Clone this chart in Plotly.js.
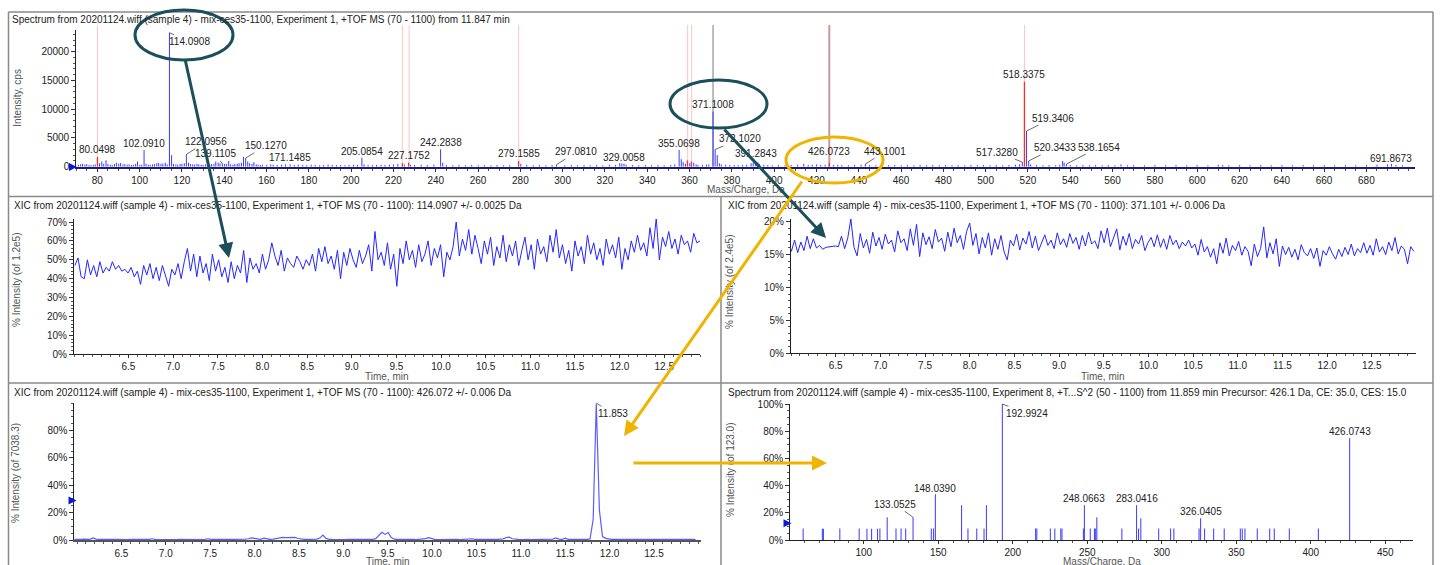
<!DOCTYPE html>
<html><head><meta charset="utf-8">
<script src="https://cdn.plot.ly/plotly-3.0.1.min.js"></script>
<style>html,body{margin:0;padding:0;background:#fff;}#chart{width:1440px;height:565px;}</style>
</head><body><div id="chart"></div>
<script>
// ---------------- DATA ----------------
const TITLE_MS1 = "Spectrum from 20201124.wiff (sample 4) - mix-ces35-1100, Experiment 1, +TOF MS (70 - 1100) from 11.847 min";
const TITLE_XIC1 = "XIC from 20201124.wiff (sample 4) - mix-ces35-1100, Experiment 1, +TOF MS (70 - 1100): 114.0907 +/- 0.0025 Da";
const TITLE_XIC2 = "XIC from 20201124.wiff (sample 4) - mix-ces35-1100, Experiment 1, +TOF MS (70 - 1100): 371.101 +/- 0.006 Da";
const TITLE_XIC3 = "XIC from 20201124.wiff (sample 4) - mix-ces35-1100, Experiment 1, +TOF MS (70 - 1100): 426.072 +/- 0.006 Da";
const TITLE_MS2 = "Spectrum from 20201124.wiff (sample 4) - mix-ces35-1100, Experiment 8, +T...S^2 (50 - 1100) from 11.859 min Precursor: 426.1 Da, CE: 35.0, CES: 15.0";

// MS1 spectrum: [m/z, intensity cps]
const MS1_BLUE = [
 [71.0,350],[72.1,420],[73.0,500],[74.1,380],[75.0,450],[76.1,300],[77.0,250],[78.1,320],[79.0,400],
 [81.0,600],[82.1,900],[83.0,500],[84.1,1100],[85.0,450],[86.1,350],[87.0,300],[88.1,450],[89.0,700],
 [90.1,500],[91.0,650],[92.1,400],[93.0,450],[94.1,350],[95.0,400],[96.1,300],[97.0,350],[98.1,500],
 [99.0,900],[100.1,300],[101.0,350],[102.0910,2900],[103.0,500],[104.1,350],[105.0,300],[106.1,400],
 [107.0,450],[108.1,600],[109.0,650],[110.1,500],[111.0,550],[112.1,700],[113.0,400],[114.0908,23300],
 [115.1,2000],[116.0,500],[117.1,400],[118.0,350],[119.1,450],[120.0,500],[121.1,600],[122.0956,2150],
 [123.1,700],[124.0,450],[125.1,400],[126.0,350],[127.1,500],[128.0,400],[129.1,350],[130.0,300],
 [131.1,400],[132.0,350],[133.1,300],[134.0,450],[135.1,500],[136.0,900],[137.1,700],[138.0,600],
 [139.1105,500],[140.1,450],[141.0,500],[142.1,1000],[143.0,400],[144.1,350],[145.0,450],[146.1,500],
 [147.0,600],[148.1,700],[149.1,1700],[150.1270,1500],[151.1,900],[152.0,600],[153.1,500],[154.0,800],
 [155.1,400],[156.0,350],[157.1,300],[158.0,350],[160.1,300],[162.0,400],[163.1,350],[165.0,300],
 [167.1,350],[169.0,400],[171.1485,400],[173.1,300],[175.0,350],[177.1,300],[179.0,250],[181.1,350],
 [183.0,300],[185.1,250],[187.0,300],[189.1,350],[191.0,300],[193.1,250],[195.0,300],[197.1,250],
 [199.0,300],[201.1,350],[203.0,300],[205.0854,1570],[206.1,400],[208.0,300],[210.1,250],[212.0,300],
 [214.1,350],[216.0,300],[218.1,350],[220.0,400],[222.1,500],[225.1,400],[228.1,350],[230.0,300],
 [233.1,350],[236.0,300],[239.1,350],[242.2838,3030],[243.3,700],[245.0,300],[248.1,250],[251.0,300],
 [254.1,250],[257.0,300],[260.1,250],[263.0,300],[266.1,250],[269.0,300],[272.1,250],[275.0,300],
 [280.2,500],[283.0,300],[286.1,250],[289.0,300],[292.1,250],[295.0,300],[297.0810,350],[301.0,250],
 [304.1,300],[307.0,250],[310.1,300],[313.0,250],[316.1,300],[319.0,250],[322.1,350],[325.0,300],
 [327.0,600],[328.0,550],[329.0058,500],[330.0,350],[333.1,300],[336.0,250],[339.1,300],[342.0,250],
 [345.1,300],[348.0,250],[351.1,300],[353.0,400],[355.0698,2900],[356.1,1300],[357.0,800],[358.1,500],
 [360.1,600],[362.0,700],[363.1,400],[364.0,300],[366.1,300],[368.0,350],[369.1,400],[371.1008,9570],
 [372.1020,3000],[373.1,2000],[374.1,600],[375.0,400],[377.1,350],[379.0,300],[381.1,300],[383.0,250],
 [385.1,300],[387.0,350],[389.1,600],[390.1,700],[391.2843,650],[392.3,750],[393.0,500],[395.1,350],
 [397.0,300],[399.1,250],[402.0,300],[405.1,250],[408.0,300],[411.1,350],[414.0,500],[416.1,300],
 [418.0,350],[420.1,400],[422.0,300],[424.1,350],[428.0,300],[430.1,350],[432.0,300],[435.1,250],
 [438.0,300],[441.1,350],[443.1001,450],[445.0,300],[448.1,250],[451.0,300],[454.1,250],[457.0,300],
 [460.1,250],[463.0,300],[466.1,250],[469.0,300],[472.1,250],[475.0,300],[478.1,250],[481.0,300],
 [484.1,250],[487.0,300],[490.1,250],[493.0,300],[496.1,250],[499.0,300],[502.1,250],[505.0,300],
 [508.1,250],[511.0,300],[514.1,350],[516.0,400],[517.3280,800],[519.3406,6200],[520.3433,1000],
 [521.3,400],[524.0,300],[527.1,250],[530.0,300],[533.1,250],[535.0,350],[536.4,1000],[537.1,700],
 [538.1654,450],[540.0,300],[543.1,250],[546.0,300],[549.1,250],[552.0,300],[555.1,250],[558.0,300],
 [561.1,250],[564.0,400],[567.1,250],[570.0,300],[575.1,250],[580.0,300],[585.1,250],[590.0,300],
 [595.1,250],[600.0,300],[605.1,250],[610.0,350],[612.1,300],[615.0,250],[620.1,300],[625.0,250],
 [630.1,300],[635.0,250],[640.1,300],[645.0,250],[650.1,300],[655.0,250],[660.1,300],[665.0,250],
 [670.1,300],[675.0,250],[680.1,300],[685.0,350],[690.0,400],[691.8673,500],[694.0,300],[697.1,250]
];
const MS1_RED = [[80.0498,1700],[224.2,600],[227.1752,700],[279.1585,1000],[359.0,1100],[360.9,900],[426.0723,600],[518.3375,14780]];
const MS1_MARK_MZ = [80.05,224.2,227.4,279.2,359.1,361.0,518.34];
const MS1_MARK_DARK_MZ = [426.07];
const MS1_SELECT_MZ = [371.10];
const MS1_LABELS = ['80.0498','102.0910','114.0908','122.0956','139.1105','150.1270','171.1485','205.0854','227.1752','242.2838','279.1585','297.0810','329.0058','355.0698','371.1008','372.1020','391.2843','426.0723','443.1001','517.3280','518.3375','519.3406','520.3433','538.1654','691.8673'];
const MS1_XTICKS = [80,100,120,140,160,180,200,220,240,260,280,300,320,340,360,380,400,420,440,460,480,500,520,540,560,580,600,620,640,660,680];
const MS1_YTICKS = [0,5000,10000,15000,20000];

// XIC time axis (min)
const TIME = [
 5.900,5.935,5.970,6.005,6.040,6.075,6.110,6.145,6.180,6.215,
 6.250,6.285,6.320,6.355,6.390,6.425,6.460,6.495,6.530,6.565,
 6.600,6.635,6.670,6.705,6.740,6.775,6.810,6.845,6.880,6.915,
 6.950,6.985,7.020,7.055,7.090,7.125,7.160,7.195,7.230,7.265,
 7.300,7.335,7.370,7.405,7.440,7.475,7.510,7.545,7.580,7.615,
 7.650,7.685,7.720,7.755,7.790,7.825,7.860,7.895,7.930,7.965,
 8.000,8.035,8.070,8.105,8.140,8.175,8.210,8.245,8.280,8.315,
 8.350,8.385,8.420,8.455,8.490,8.525,8.560,8.595,8.630,8.665,
 8.700,8.735,8.770,8.805,8.840,8.875,8.910,8.945,8.980,9.015,
 9.050,9.085,9.120,9.155,9.190,9.225,9.260,9.295,9.330,9.365,
 9.400,9.435,9.470,9.505,9.540,9.575,9.610,9.645,9.680,9.715,
 9.750,9.785,9.820,9.855,9.890,9.925,9.960,9.995,10.030,10.065,
 10.100,10.135,10.170,10.205,10.240,10.275,10.310,10.345,10.380,10.415,
 10.450,10.485,10.520,10.555,10.590,10.625,10.660,10.695,10.730,10.765,
 10.800,10.835,10.870,10.905,10.940,10.975,11.010,11.045,11.080,11.115,
 11.150,11.185,11.220,11.255,11.290,11.325,11.360,11.395,11.430,11.465,
 11.500,11.535,11.570,11.605,11.640,11.675,11.710,11.745,11.780,11.815,
 11.850,11.885,11.920,11.955,11.990,12.025,12.060,12.095,12.130,12.165,
 12.200,12.235,12.270,12.305,12.340,12.375,12.410,12.445,12.480,12.515,
 12.550,12.585,12.620,12.655,12.690,12.725,12.760,12.795,12.830,12.865,
 12.900,12.935,12.970
];
// XIC 114.0907 (% of 1.2e5)
const XIC_114 = [
 47,51,41,40,50,42,47,41,49,43,
 46,44,49,45,47,44,45,43,46,41,
 44,37,47,42,48,40,46,39,47,41,
 36,45,42,48,40,49,56,44,53,41,
 52,43,48,39,53,44,50,41,46,38,
 49,40,47,43,55,38,51,45,48,43,
 53,45,50,59,52,47,55,44,51,48,
 46,52,49,45,50,47,53,44,56,49,
 57,48,52,45,55,40,54,47,56,50,
 46,55,48,52,58,44,65,50,54,47,
 59,45,53,36,56,48,60,50,55,46,
 58,49,53,60,47,56,51,58,41,54,
 50,57,70,52,61,55,66,53,63,56,
 48,60,53,62,47,57,51,63,49,58,
 52,60,47,55,62,50,58,45,61,53,
 57,49,63,54,66,51,58,48,55,44,
 60,52,57,48,63,53,59,50,56,47,
 61,53,58,51,62,45,56,50,60,54,
 63,55,59,52,67,56,72,50,62,57,
 65,56,61,53,63,58,60,54,64,59,
 60,61,59
];
// XIC 371.101 (% of 2.4e5)
const XIC_371 = [
 16.8,16.2,17.0,15.5,17.2,15.3,16.9,15.6,17.8,15.9,
 17.4,16.0,16.4,15.8,16.1,16.2,16.3,16.3,16.2,17.8,
 15.9,17.5,20.4,16.1,14.8,18.2,16.0,17.3,15.2,18.4,
 16.3,17.6,15.8,18.1,16.6,17.2,15.4,18.6,16.8,17.4,
 15.6,18.9,16.4,19.6,14.7,18.3,16.5,17.7,15.9,18.8,
 16.9,17.5,15.5,18.4,16.2,19.0,16.8,17.9,15.8,18.5,
 19.8,16.4,18.2,15.1,17.6,16.0,18.3,14.9,17.4,15.8,
 17.9,15.4,14.2,17.2,16.3,18.1,15.7,17.5,16.6,18.5,
 16.0,17.8,15.6,16.9,18.0,16.4,17.2,15.9,18.3,16.5,
 17.4,16.1,18.2,16.7,17.6,15.8,17.9,16.3,18.4,16.6,
 17.1,15.9,18.6,16.8,19.0,16.2,17.5,18.9,15.7,17.8,
 16.4,18.2,15.9,17.3,16.6,17.9,15.6,16.8,17.6,16.2,
 18.0,16.1,17.4,15.8,17.9,16.5,17.2,15.9,16.9,16.3,
 17.2,16.0,16.6,14.9,17.3,15.4,16.2,14.6,15.9,13.6,
 16.8,15.2,17.5,14.8,16.4,15.6,17.0,14.9,16.2,15.5,
 13.3,16.6,14.7,15.9,19.2,14.5,16.8,15.1,17.4,13.2,
 16.3,15.0,16.1,14.6,15.8,14.2,16.5,15.3,14.8,15.9,
 14.4,16.0,13.2,15.6,14.9,16.2,15.1,14.3,15.8,14.7,
 16.1,15.0,16.6,14.8,15.9,15.3,16.8,15.2,16.4,14.9,
 17.4,15.4,16.2,15.0,16.9,15.6,17.6,15.1,16.3,15.8,
 13.6,16.2,15.5
];
// XIC 426.072 (% of 7038.3)
const XIC_426 = [
 0.4,0.3,0.5,0.3,0.4,0.6,0.4,0.5,1.5,0.6,
 0.4,0.3,0.5,0.4,0.3,0.4,0.5,0.3,0.4,0.3,
 0.4,0.5,0.3,0.4,0.3,0.5,0.4,0.9,0.5,0.4,
 0.3,0.4,0.5,0.3,0.4,0.3,0.5,0.4,0.6,0.4,
 0.3,0.5,0.4,0.3,0.5,0.9,0.5,0.4,0.3,0.4,
 0.5,0.3,0.4,0.5,0.4,0.3,0.5,0.6,0.9,1.6,
 1.2,0.6,0.5,1.3,0.6,0.4,0.7,1.2,1.8,1.9,
 1.7,1.8,1.6,1.9,1.1,0.6,0.5,0.4,0.5,0.4,
 0.6,1.4,3.6,1.2,0.5,0.4,0.3,0.5,0.4,0.3,
 0.5,0.4,0.3,0.4,0.5,0.3,0.4,0.5,0.4,1.0,
 3.2,5.6,4.1,5.5,1.8,0.6,0.4,0.5,0.3,0.4,
 0.5,0.4,0.3,0.4,0.5,1.0,1.7,0.8,0.4,0.3,
 0.4,0.5,0.3,0.4,0.5,0.4,0.3,0.5,0.4,0.6,
 0.9,0.5,0.4,0.3,0.5,0.4,0.3,0.4,0.5,0.4,
 0.8,1.8,2.1,0.9,0.5,0.4,0.3,0.5,0.4,0.3,
 0.4,0.5,0.3,0.4,0.5,0.4,0.6,1.5,0.6,0.4,
 1.3,0.5,0.4,0.3,0.4,0.5,0.4,0.5,0.8,15,
 100,22,2.5,1.2,0.6,0.4,0.5,0.3,0.4,0.5,
 0.3,0.4,0.5,0.3,0.4,0.5,0.3,0.4,0.5,0.3,
 0.4,0.5,0.3,0.4,0.5,0.4,0.3,0.5,0.4,0.3,
 0.4,0.5,0.3
];
const XIC_APEX_LABEL = '11.853';
const XIC_TICKS = [6.5,7.0,7.5,8.0,8.5,9.0,9.5,10.0,10.5,11.0,11.5,12.0,12.5];
const XIC114_YTICKS = [0,10,20,30,40,50,60,70];
const XIC371_YTICKS = [0,5,10,15,20];
const XIC426_YTICKS = [0,20,40,60,80];

// MS/MS spectrum of 426.1: [m/z, % of 123.0]
const MS2 = [
 [59.3,8.5],[72.2,8.2],[72.9,8.2],[83.9,8.5],[96.9,8.5],[102.1,8.2],[105.2,8.2],[109.2,8.2],[110.8,8.5],
 [115.7,16.7],[121.6,8.5],[125.0,8.5],[128.1,8.5],[133.0525,16.7],[145.3,8.5],[146.8,8.5],[148.0390,33.6],
 [165.6,25.5],[169.9,8.5],[175.8,8.5],[180.7,8.5],[182.3,25.5],[192.9924,100],[215.3,8.5],[216.1,8.5],
 [225.2,8.5],[228.2,8.5],[232.2,8.5],[233.0,8.5],[247.4,8.5],[248.0663,25.5],[252.0,8.5],[254.8,8.5],
 [255.6,8.5],[256.4,16.7],[273.2,8.5],[283.0416,25.5],[284.4,8.5],[285.9,16.0],[297.9,8.5],[305.9,8.5],
 [308.1,8.5],[325.0,8.5],[326.0405,16.0],[328.7,8.5],[334.8,8.5],[341.9,8.5],[352.7,8.5],[354.0,8.5],
 [355.8,8.5],[364.1,8.5],[372.4,8.5],[375.5,8.5],[385.6,8.5],[405.1,8.5],[426.0743,75]
];
const MS2_LABELS = ['133.0525','148.0390','192.9924','248.0663','283.0416','326.0405','426.0743'];
const MS2_XTICKS = [100,150,200,250,300,350,400,450];
const MS2_YTICKS = [0,20,40,60,80,100];

// ---------------- STYLE / LAYOUT ----------------
const W = 1440, H = 565;
const PX = x => x / W, PY = y => 1 - y / H;
const FONT = 'Liberation Sans, Arial, sans-serif';
const TXT = '#222';
const pct = a => a.map(v => v + '%');

// label offsets in pixels from the peak top: [dx, dy, leader]
const MS1_LABEL_POS = {
 '80.0498':[0,-7,0],'102.0910':[0,-7,0],'114.0908':[20,9,1],'122.0956':[20,-12.6,1],'139.1105':[-7,-10,1],
 '150.1270':[20,-12.3,1],'171.1485':[0,-6.5,0],'205.0854':[0,-6,0],'227.1752':[0,-7,0],'242.2838':[0,-6.5,0],
 '279.1585':[0,-7,0],'297.0810':[20,-12.7,1],'329.0058':[0,-6,0],'355.0698':[0,-6.5,0],'371.1008':[0,-7,0],
 '372.1020':[25,-10.5,1],'391.2843':[0,-9,0],'426.0723':[0,-12,0],'443.1001':[20,-13,1],'517.3280':[-25,-10,1],
 '518.3375':[0,-7,0],'519.3406':[26,-13,1],'520.3433':[26,-13,1],'538.1654':[33,-17,1],'691.8673':[0,-5.5,0]
};
const MS2_LABEL_POS = {
 '133.0525':[-18,-13,1],'148.0390':[0,-6,0],'192.9924':[24.5,9.3,1],'248.0663':[0,-7,0],
 '283.0416':[0,-7,0],'326.0405':[0,-7,0],'426.0743':[0,-6.5,0]
};

function sticks(peaks){ const x=[],y=[]; peaks.forEach(p=>{x.push(p[0],p[0],null);y.push(0,p[1],null);}); return {x,y}; }
function lookup(peaks, mz){ let v=null; peaks.forEach(p=>{ if(Math.abs(p[0]-mz)<0.001) v=p[1]; }); return v; }

function peakLabel(xa, ya, x, y, text, pos){
  const f = {family:FONT,size:10,color:TXT};
  if (pos[2]) return {xref:xa,yref:ya,x:x,y:y,text:text,showarrow:true,arrowhead:0,arrowwidth:0.8,arrowcolor:'#444',
     ax:pos[0],ay:pos[1],xanchor:'center',yanchor:'middle',standoff:0,font:f};
  return {xref:xa,yref:ya,x:x,y:y,text:text,showarrow:false,xshift:pos[0],yshift:-pos[1],xanchor:'center',yanchor:'middle',font:f};
}

const s1b = sticks(MS1_BLUE), s1r = sticks(MS1_RED), s2 = sticks(MS2);
const traces = [
  {x:s1b.x,y:s1b.y,xaxis:'x',yaxis:'y',mode:'lines',line:{color:'#3a3aff',width:1},hoverinfo:'skip'},
  {x:s1r.x,y:s1r.y,xaxis:'x',yaxis:'y',mode:'lines',line:{color:'#ff2a2a',width:1.3},hoverinfo:'skip'},
  {x:TIME,y:XIC_114,xaxis:'x2',yaxis:'y2',mode:'lines',line:{color:'#2626ff',width:1},hoverinfo:'skip'},
  {x:TIME,y:XIC_371,xaxis:'x3',yaxis:'y3',mode:'lines',line:{color:'#2626ff',width:1},hoverinfo:'skip'},
  {x:TIME,y:XIC_426,xaxis:'x4',yaxis:'y4',mode:'lines',line:{color:'#5c5cff',width:1.2},hoverinfo:'skip'},
  {x:s2.x,y:s2.y,xaxis:'x5',yaxis:'y5',mode:'lines',line:{color:'#4a4aff',width:1.1},hoverinfo:'skip'}
];

function ax(o){
  return Object.assign({showgrid:false,zeroline:false,showline:true,linecolor:'#222',linewidth:1,ticks:'outside',
    ticklen:3,tickcolor:'#333',tickfont:{family:FONT,size:10,color:TXT},fixedrange:true,tickmode:'array'},o);
}
const minorX = d => ({ticks:'outside',ticklen:2,dtick:d,tickcolor:'#555',tickmode:'linear'});
const minorY = d => ({ticks:'outside',ticklen:2,dtick:d,tickcolor:'#555',tickmode:'linear'});

const layout = {
  width:W,height:H,margin:{l:0,r:0,t:0,b:0},paper_bgcolor:'#fff',plot_bgcolor:'#fff',showlegend:false,
  font:{family:FONT,size:10,color:TXT},
  title:{text:TITLE_MS1,x:PX(12),xanchor:'left',y:PY(19),yanchor:'middle',font:{family:FONT,size:10,color:TXT}},
  xaxis: ax({domain:[PX(76.2),PX(1415)],range:[70,703],anchor:'y',tickvals:MS1_XTICKS,linecolor:'#1c1c80',linewidth:2,minor:minorX(5)}),
  yaxis: ax({domain:[PY(166.7),PY(30)],range:[0,23774],anchor:'x',tickvals:MS1_YTICKS,ticktext:MS1_YTICKS.map(String),ticklen:4,minor:minorY(1000)}),
  xaxis2: ax({domain:[PX(74),PX(700)],range:[5.89,12.9],anchor:'y2',tickvals:XIC_TICKS,ticktext:XIC_TICKS.map(v=>v.toFixed(1)),minor:minorX(0.1)}),
  yaxis2: ax({domain:[PY(354.3),PY(219)],range:[0,71.6],anchor:'x2',tickvals:XIC114_YTICKS,ticktext:pct(XIC114_YTICKS),ticklen:4,minor:minorY(2)}),
  xaxis3: ax({domain:[PX(791),PX(1415.6)],range:[6.0,12.99],anchor:'y3',tickvals:XIC_TICKS,ticktext:XIC_TICKS.map(v=>v.toFixed(1)),minor:minorX(0.1)}),
  yaxis3: ax({domain:[PY(353.3),PY(218.7)],range:[0,20.45],anchor:'x3',tickvals:XIC371_YTICKS,ticktext:pct(XIC371_YTICKS),ticklen:4,minor:minorY(1)}),
  xaxis4: ax({domain:[PX(74.4),PX(701)],range:[5.97,13.03],anchor:'y4',tickvals:XIC_TICKS,ticktext:XIC_TICKS.map(v=>v.toFixed(1)),linecolor:'#555',linewidth:2,minor:minorX(0.1)}),
  yaxis4: ax({domain:[PY(540),PY(403.3)],range:[0,100],anchor:'x4',tickvals:XIC426_YTICKS,ticktext:pct(XIC426_YTICKS),ticklen:4,minor:minorY(5)}),
  xaxis5: ax({domain:[PX(790.2),PX(1413.3)],range:[50.6,468.8],anchor:'y5',tickvals:MS2_XTICKS,ticktext:MS2_XTICKS.map(String),minor:minorX(10)}),
  yaxis5: ax({domain:[PY(540),PY(404)],range:[0,100],anchor:'x5',tickvals:MS2_YTICKS,ticktext:pct(MS2_YTICKS),ticklen:4,minor:minorY(5)}),
  shapes:[], annotations:[]
};

// marker lines in MS1
MS1_MARK_MZ.forEach(m=>layout.shapes.push({type:'line',xref:'x',yref:'y domain',x0:m,x1:m,y0:0,y1:1.036,layer:'below',line:{color:'#ffc4c4',width:1}}));
MS1_MARK_DARK_MZ.forEach(m=>layout.shapes.push({type:'line',xref:'x',yref:'y domain',x0:m,x1:m,y0:0,y1:1.036,layer:'below',line:{color:'#c49a9a',width:2}}));
MS1_SELECT_MZ.forEach(m=>layout.shapes.push({type:'line',xref:'x',yref:'y domain',x0:m,x1:m,y0:0,y1:1.036,layer:'below',line:{color:'#7a7a7a',width:1}}));

// panel frames
const FR = {color:'#8a8a8a',width:1.5};
[[8.5,12,1433,12],[8.5,12,8.5,565],[1433,12,1433,565],[8.5,196.5,1433,196.5],[8.5,383,1433,383],[721,196.5,721,565]]
 .forEach(l=>layout.shapes.push({type:'line',xref:'paper',yref:'paper',x0:PX(l[0]),y0:PY(l[1]),x1:PX(l[2]),y1:PY(l[3]),line:FR}));

// highlight ellipses
const TEAL = '#1a4f5b', GOLD = '#f0b400';
[[135,10,233,60,TEAL],[670,80,767,128,TEAL],[786,137,883,183,GOLD]].forEach(e=>layout.shapes.push(
 {type:'circle',xref:'paper',yref:'paper',x0:PX(e[0]),y0:PY(e[3]),x1:PX(e[2]),y1:PY(e[1]),layer:'above',line:{color:e[4],width:3}}));

// panel titles
[[TITLE_XIC1,12,205],[TITLE_XIC2,726,205],[TITLE_XIC3,12,392],[TITLE_MS2,726,392]].forEach(t=>layout.annotations.push(
 {xref:'paper',yref:'paper',x:PX(t[1]),y:PY(t[2]),xanchor:'left',yanchor:'middle',text:t[0],showarrow:false,font:{family:FONT,size:10,color:TXT}}));

// axis titles
const AT = {family:FONT,size:10,color:'#555'};
[['Mass/Charge, Da',745.6,189.5,0],['Time, min',387,376.5,0],['Time, min',1103,376.5,0],['Time, min',387.7,561,0],['Mass/Charge, Da',1101.7,561,0],
 ['Intensity, cps',16.7,98,-90],['% Intensity (of 1.2e5)',16,280,-90],['% Intensity (of 2.4e5)',729,282,-90],
 ['% Intensity (of 7038.3)',16,473,-90],['% Intensity (of 123.0)',730,470,-90]].forEach(a=>layout.annotations.push(
 {xref:'paper',yref:'paper',x:PX(a[1]),y:PY(a[2]),xanchor:'center',yanchor:'middle',text:a[0],textangle:a[3],showarrow:false,font:AT}));

// threshold markers (small blue arrows pointing at the axis)
[[77,167],[76.5,500.5],[791.5,523.3]].forEach(m=>layout.annotations.push(
 {xref:'paper',yref:'paper',x:PX(m[0]),y:PY(m[1]),ax:-6,ay:0,text:'',showarrow:true,arrowhead:2,arrowsize:0.8,arrowwidth:2,arrowcolor:'#0a18d8',standoff:0}));

// peak labels
const MS1_ALL = MS1_BLUE.concat(MS1_RED);
MS1_LABELS.forEach(t=>{ const m=parseFloat(t); layout.annotations.push(peakLabel('x','y',m,lookup(MS1_ALL,m),t,MS1_LABEL_POS[t])); });
MS2_LABELS.forEach(t=>{ const m=parseFloat(t); layout.annotations.push(peakLabel('x5','y5',m,lookup(MS2,m),t,MS2_LABEL_POS[t])); });
{ const apexIdx = XIC_426.indexOf(Math.max.apply(null,XIC_426));
  layout.annotations.push(peakLabel('x4','y4',parseFloat(XIC_APEX_LABEL),XIC_426[apexIdx],XIC_APEX_LABEL,[16,10,1])); }

// call-out arrows [tipX, tipY, tailX, tailY, colour]
[[229,258,185,59,TEAL],[826,238,723,128,TEAL],[624,436,803,180,GOLD],[827,463,632,463,GOLD]].forEach(a=>layout.annotations.push(
 {xref:'paper',yref:'paper',x:PX(a[0]),y:PY(a[1]),ax:a[2]-a[0],ay:a[3]-a[1],axref:'pixel',ayref:'pixel',text:'',showarrow:true,
  arrowhead:2,arrowsize:1,arrowwidth:3,arrowcolor:a[4],standoff:0}));

Plotly.newPlot('chart',traces,layout,{displayModeBar:false,staticPlot:true});
</script></body></html>
